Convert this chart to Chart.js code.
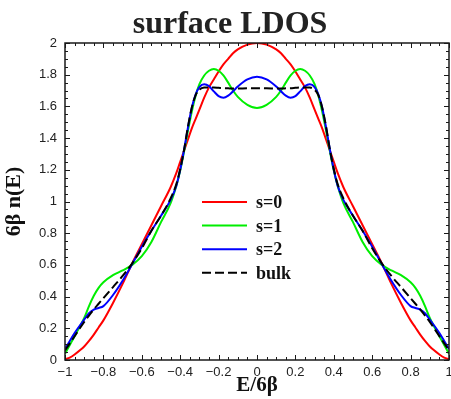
<!DOCTYPE html>
<html>
<head>
<meta charset="utf-8">
<script src="https://cdn.jsdelivr.net/npm/chart.js@4.4.0/dist/chart.umd.min.js"></script>
<style>
  html, body { margin: 0; padding: 0; background: #ffffff; }
  #wrap { width: 451px; height: 399px; position: relative; }
</style>
</head>
<body>
<div id="wrap"><canvas id="c" width="451" height="399"></canvas></div>
<script>
// Energy grid E/6β (band runs from -1 to 1)
const energy = [
  -1, -0.975, -0.95, -0.9, -0.875, -0.85, -0.825, -0.8, -0.75, -0.7, -0.65, -0.6, -0.55, -0.5, -0.45, -0.42,
  -0.4, -0.38, -0.36, -0.34, -0.32, -0.3, -0.275, -0.25, -0.225, -0.2, -0.175, -0.15, -0.125, -0.1, -0.05,
  0,
  0.05, 0.1, 0.125, 0.15, 0.175, 0.2, 0.225, 0.25, 0.275, 0.3, 0.32, 0.34, 0.36, 0.38, 0.4,
  0.42, 0.45, 0.5, 0.55, 0.6, 0.65, 0.7, 0.75, 0.8, 0.825, 0.85, 0.875, 0.9, 0.95, 0.975, 1
];

// Layer-resolved local density of states, 6β n(E)
const ldosS0 = [
  0.005, 0.015, 0.035, 0.085, 0.12, 0.16, 0.205, 0.25, 0.36, 0.48, 0.61, 0.73, 0.85, 0.97, 1.09, 1.18,
  1.25, 1.32, 1.39, 1.46, 1.52, 1.58, 1.655, 1.72, 1.77, 1.82, 1.865, 1.90, 1.935, 1.96, 1.99,
  2.00,
  1.99, 1.96, 1.935, 1.90, 1.865, 1.82, 1.77, 1.72, 1.655, 1.58, 1.52, 1.46, 1.39, 1.32, 1.25,
  1.18, 1.09, 0.97, 0.85, 0.73, 0.61, 0.48, 0.36, 0.25, 0.205, 0.16, 0.12, 0.085, 0.035, 0.015, 0.005
];
const ldosS1 = [
  0.04, 0.095, 0.15, 0.265, 0.34, 0.405, 0.455, 0.49, 0.535, 0.565, 0.60, 0.655, 0.745, 0.87, 0.99, 1.10,
  1.195, 1.315, 1.445, 1.565, 1.665, 1.74, 1.795, 1.825, 1.836, 1.825, 1.795, 1.75, 1.70, 1.66, 1.61,
  1.59,
  1.61, 1.66, 1.70, 1.75, 1.795, 1.825, 1.836, 1.825, 1.795, 1.74, 1.665, 1.565, 1.445, 1.315, 1.195,
  1.10, 0.99, 0.87, 0.745, 0.655, 0.60, 0.565, 0.535, 0.49, 0.455, 0.405, 0.34, 0.265, 0.15, 0.095, 0.04
];
const ldosS2 = [
  0.07, 0.12, 0.17, 0.255, 0.295, 0.318, 0.328, 0.34, 0.41, 0.50, 0.605, 0.715, 0.815, 0.91, 1.01, 1.10,
  1.20, 1.325, 1.465, 1.59, 1.675, 1.722, 1.74, 1.728, 1.695, 1.665, 1.655, 1.668, 1.695, 1.725, 1.77,
  1.787,
  1.77, 1.725, 1.695, 1.668, 1.655, 1.665, 1.695, 1.728, 1.74, 1.722, 1.675, 1.59, 1.465, 1.325, 1.20,
  1.10, 1.01, 0.91, 0.815, 0.715, 0.605, 0.50, 0.41, 0.34, 0.328, 0.318, 0.295, 0.255, 0.17, 0.12, 0.07
];
const ldosBulk = [
  0.06, 0.105, 0.15, 0.24, 0.28, 0.32, 0.355, 0.39, 0.46, 0.53, 0.61, 0.705, 0.815, 0.91, 1.02, 1.11,
  1.205, 1.325, 1.47, 1.59, 1.67, 1.705, 1.719, 1.72, 1.719, 1.717, 1.715, 1.714, 1.713, 1.713, 1.714,
  1.714,
  1.714, 1.713, 1.713, 1.714, 1.715, 1.717, 1.719, 1.72, 1.719, 1.705, 1.67, 1.59, 1.47, 1.325, 1.205,
  1.11, 1.02, 0.91, 0.815, 0.705, 0.61, 0.53, 0.46, 0.39, 0.355, 0.32, 0.28, 0.24, 0.15, 0.105, 0.06
];

const seriesLabels = ['s=0', 's=1', 's=2', 'bulk'];
const xTickLabels = ['\u22121', '\u22120.8', '\u22120.6', '\u22120.4', '\u22120.2', '0', '0.2', '0.4', '0.6', '0.8', '1'];
const yTickLabels = ['0', '0.2', '0.4', '0.6', '0.8', '1', '1.2', '1.4', '1.6', '1.8', '2'];
const titleText = 'surface LDOS';
const xAxisTitle = 'E/6\u03b2';
const yAxisTitle = '6\u03b2 n(E)';

const serif = "'Liberation Serif', 'Times New Roman', serif";
const sans = "'Liberation Sans', Arial, Helvetica, sans-serif";

const toPoints = ys => ys.map((v, i) => ({ x: energy[i], y: v }));

// Boxed frame with inward major/minor ticks on all four sides
const frameTicks = {
  id: 'frameTicks',
  afterDatasetsDraw(chart) {
    const { ctx, chartArea: { left, right, top, bottom }, scales: { x, y } } = chart;
    ctx.save();
    ctx.strokeStyle = '#1a1a1a';
    ctx.lineWidth = 1;
    ctx.beginPath();
    for (let k = 0; k <= 40; k++) {
      const px = Math.round(x.getPixelForValue(-1 + k * 0.05)) + 0.5;
      const len = k % 4 === 0 ? 5 : 3;
      ctx.moveTo(px, bottom); ctx.lineTo(px, bottom - len);
      ctx.moveTo(px, top); ctx.lineTo(px, top + len);
    }
    for (let k = 0; k <= 40; k++) {
      const py = Math.round(y.getPixelForValue(k * 0.05)) + 0.5;
      const len = k % 4 === 0 ? 5 : 3;
      ctx.moveTo(left, py); ctx.lineTo(left + len, py);
      ctx.moveTo(right, py); ctx.lineTo(right - len, py);
    }
    ctx.stroke();
    ctx.lineWidth = 1.5;
    ctx.strokeRect(left, top, right - left, bottom - top);
    ctx.restore();
  }
};

// Title and in-plot legend
const annotations = {
  id: 'annotations',
  afterDraw(chart) {
    const { ctx } = chart;
    ctx.save();
    ctx.fillStyle = '#222';
    ctx.font = 'bold 32px ' + serif;
    ctx.textAlign = 'center';
    ctx.textBaseline = 'alphabetic';
    ctx.fillText(titleText, 230, 33);

    ctx.font = 'bold 18px ' + serif;
    ctx.textAlign = 'left';
    ctx.textBaseline = 'alphabetic';
    chart.data.datasets.forEach((ds, i) => {
      const yy = 202 + i * 23.6;
      ctx.save();
      ctx.strokeStyle = ds.borderColor;
      ctx.lineWidth = ds.borderWidth;
      ctx.setLineDash(ds.borderDash || []);
      ctx.beginPath();
      ctx.moveTo(202, yy);
      ctx.lineTo(247, yy);
      ctx.stroke();
      ctx.restore();
      ctx.fillStyle = '#111';
      ctx.fillText(ds.label, 256, yy + 6);
    });
    ctx.restore();
  }
};

const lineStyle = { pointRadius: 0, borderWidth: 2, fill: false, cubicInterpolationMode: 'monotone' };

new Chart(document.getElementById('c'), {
  type: 'line',
  data: {
    datasets: [
      { label: seriesLabels[0], data: toPoints(ldosS0), borderColor: '#ff0000', order: 3, ...lineStyle },
      { label: seriesLabels[1], data: toPoints(ldosS1), borderColor: '#00ee00', order: 2, ...lineStyle },
      { label: seriesLabels[2], data: toPoints(ldosS2), borderColor: '#0000ff', order: 1, ...lineStyle },
      { label: seriesLabels[3], data: toPoints(ldosBulk), borderColor: '#000000', borderDash: [9, 4], order: 0, ...lineStyle }
    ]
  },
  options: {
    responsive: false,
    animation: false,
    devicePixelRatio: 1,
    layout: { padding: { top: 43, left: 0, right: 2, bottom: 0 } },
    plugins: { legend: { display: false }, title: { display: false }, tooltip: { enabled: false } },
    scales: {
      x: {
        type: 'linear', min: -1, max: 1,
        grid: { display: false, drawTicks: false },
        border: { display: false },
        ticks: {
          stepSize: 0.2, autoSkip: false, maxRotation: 0, padding: 5,
          color: '#222', font: { family: sans, size: 13 },
          callback: (v, i) => xTickLabels[i]
        },
        title: { display: true, text: xAxisTitle, color: '#111', font: { family: serif, size: 21, weight: 'bold' }, padding: { top: 0, bottom: 1 } },
        afterFit: s => { s.height = 39; s.paddingLeft = 0; s.paddingRight = 0; }
      },
      y: {
        type: 'linear', min: 0, max: 2,
        grid: { display: false, drawTicks: false },
        border: { display: false },
        ticks: {
          stepSize: 0.2, autoSkip: false, padding: 8,
          color: '#222', font: { family: sans, size: 13 },
          callback: (v, i) => yTickLabels[i]
        },
        title: { display: true, text: yAxisTitle, color: '#111', font: { family: serif, size: 22, weight: 'bold' }, padding: { top: 1, bottom: 0 } },
        afterFit: s => { s.width = 65; s.paddingTop = 0; s.paddingBottom = 0; }
      }
    }
  },
  plugins: [frameTicks, annotations]
});
</script>
</body>
</html>
